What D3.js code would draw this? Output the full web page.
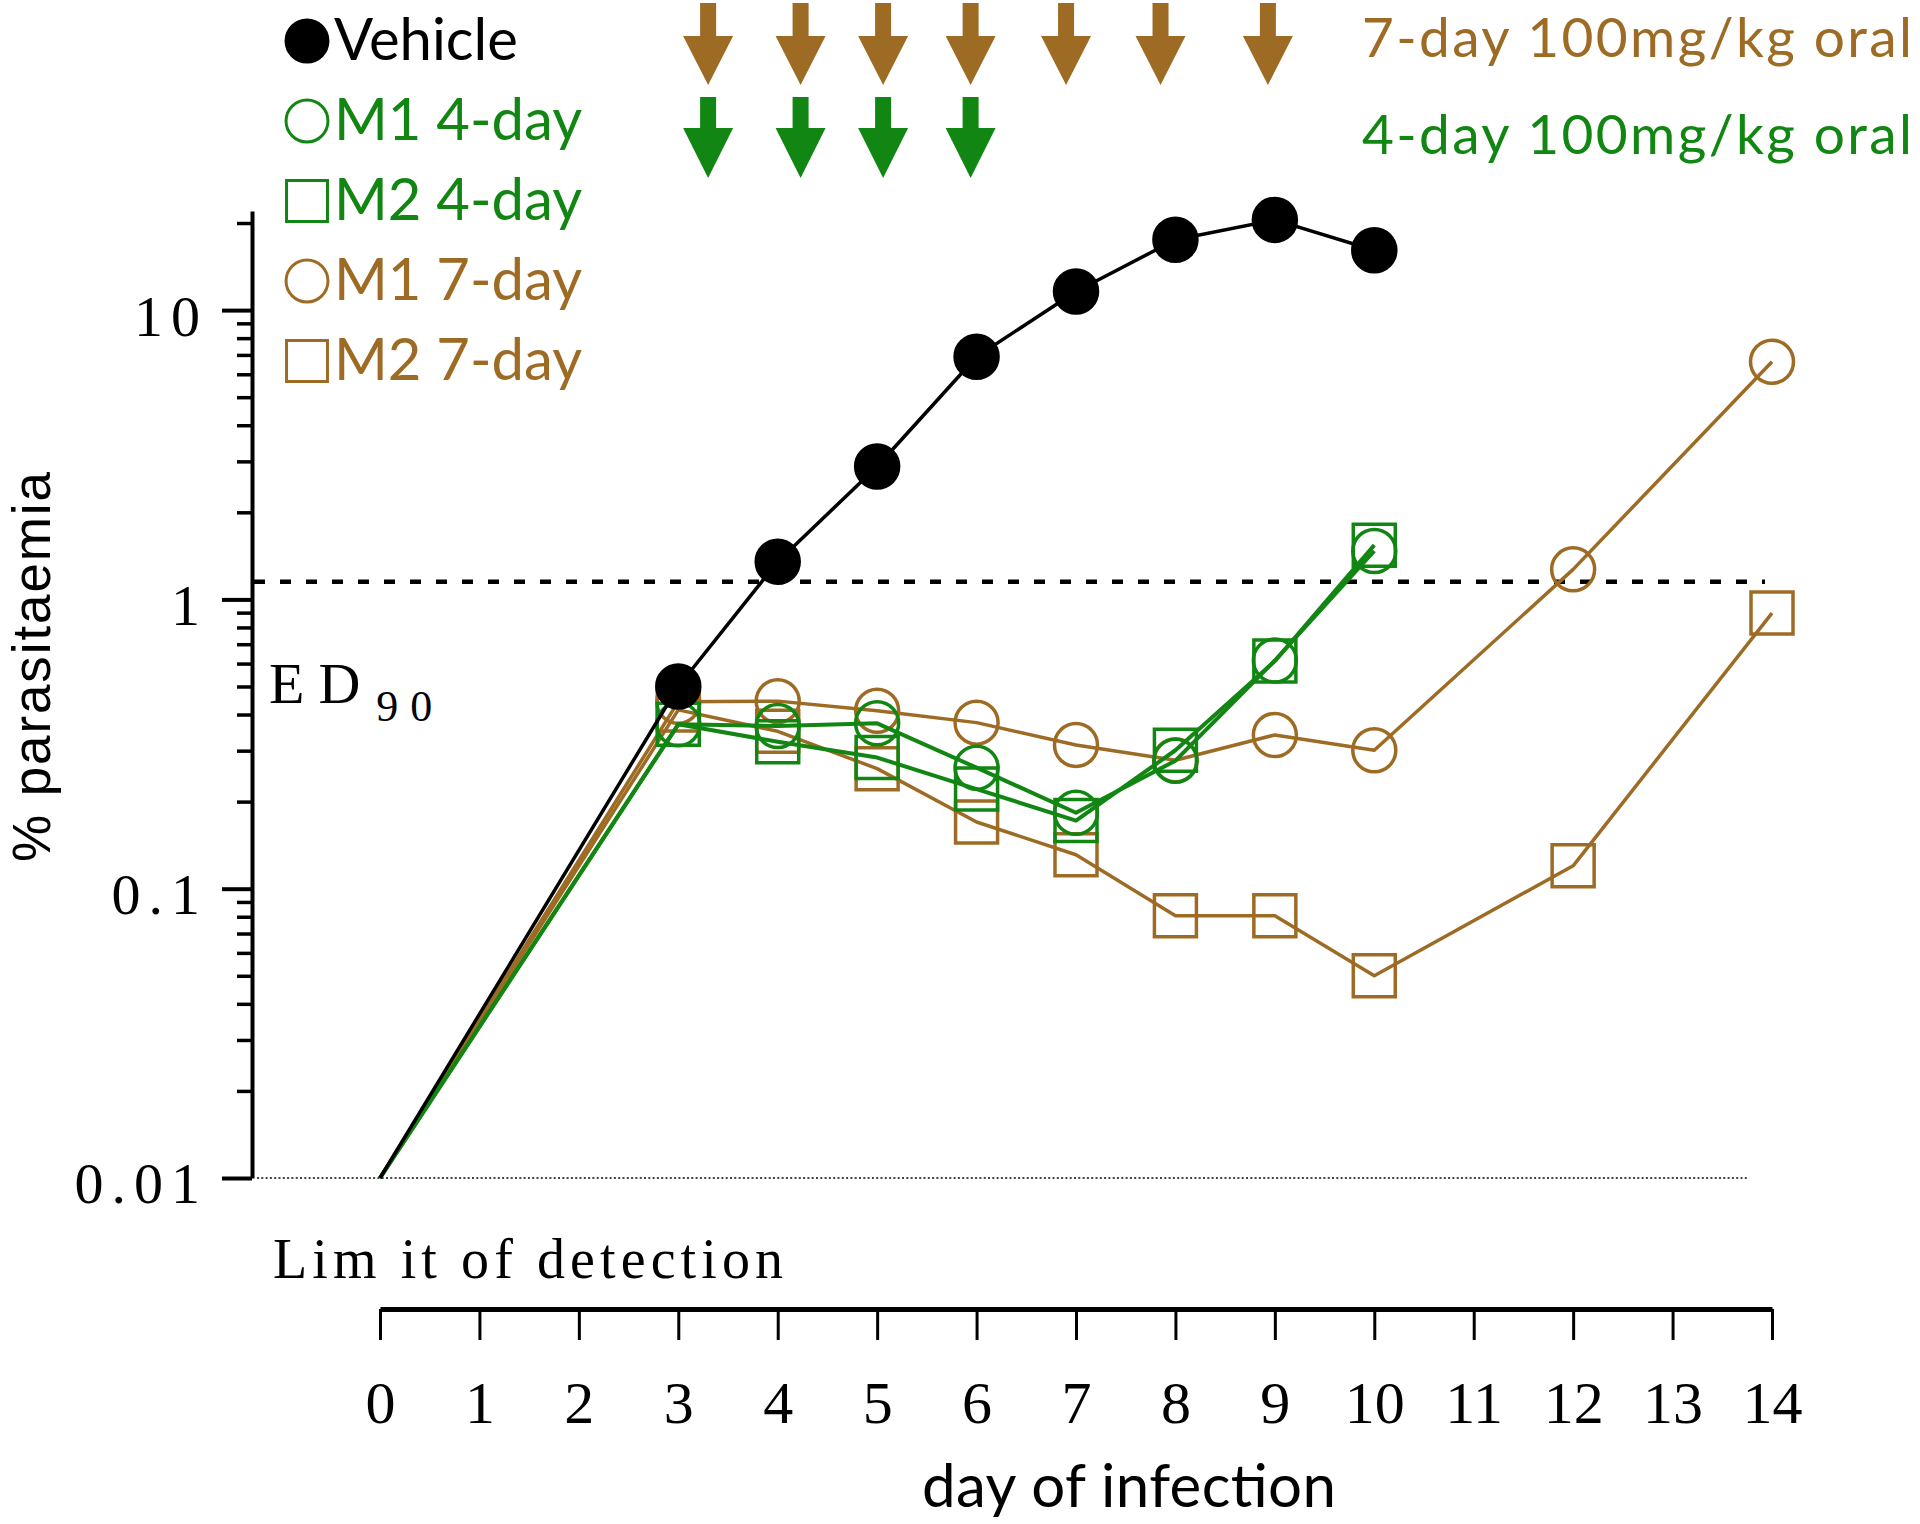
<!DOCTYPE html>
<html lang="en">
<head>
<meta charset="UTF-8">
<title>% parasitaemia by day of infection</title>
<script src="https://d3js.org/d3.v7.min.js"></script>
<style>
  body { margin: 0; background: #fff; }
  .serif { font-family: "Liberation Serif", "DejaVu Serif", serif; }
  .sans { font-family: Lato, "Noto Sans", sans-serif; }
</style>
</head>
<body>
<div id="chart"></div>
<script>
// data
const daysShort = [0, 3, 4, 5, 6, 7, 8, 9, 10];
const daysLong = [0, 3, 4, 5, 6, 7, 8, 9, 10, 12, 14];
const vehicle = [0.01, 0.5, 1.35, 2.88, 6.9, 11.6, 17.5, 20.5, 16.1];
const m1FourDay = [0.01, 0.37, 0.365, 0.373, 0.262, 0.183, 0.277, 0.615, 1.47];
const m2FourDay = [0.01, 0.37, 0.322, 0.284, 0.221, 0.172, 0.301, 0.612, 1.54];
const m1SevenDay = [0.01, 0.443, 0.445, 0.412, 0.375, 0.314, 0.278, 0.34, 0.301, 1.27, 6.63];
const m2SevenDay = [0.01, 0.415, 0.35, 0.26, 0.17, 0.131, 0.0806, 0.0806, 0.05, 0.12, 0.897];

const dayTicks = [0, 1, 2, 3, 4, 5, 6, 7, 8, 9, 10, 11, 12, 13, 14];
const yTickValues = [0.01, 0.1, 1, 10];
const yTickLabels = ["0.01", "0.1", "1", "10"];

// dosing arrows, placed in day units as drawn
const dose7Days = [3.3, 4.23, 5.06, 5.94, 6.9, 7.85, 8.93];
const dose4Days = [3.3, 4.23, 5.06, 5.94];
const dose7Label = "7-day 100mg/kg oral";
const dose4Label = "4-day 100mg/kg oral";

const ed90 = 1.15;
const detectionLimit = 0.01;
const legendLabels = ["Vehicle", "M1 4-day", "M2 4-day", "M1 7-day", "M2 7-day"];

const BROWN = "#9e6b25";
const GREEN = "#128612";

const width = 1920, height = 1524;

const svg = d3.select("#chart").append("svg")
    .attr("width", width)
    .attr("height", height);

// scales
const decadePx = 289.3;
const yBottom = 1178;
const yMax = 22;
const y = d3.scaleLog()
    .domain([0.01, yMax])
    .range([yBottom, yBottom - Math.log10(yMax / 0.01) * decadePx]);
const x = d3.scaleLinear()
    .domain([0, 14])
    .range([380, 1772]);

const axisX = 252;

// y axis: major + minor ticks
const yMajor = svg.append("g")
    .attr("transform", `translate(${axisX},0)`)
    .call(d3.axisLeft(y)
        .tickValues(yTickValues)
        .tickSize(30)
        .tickSizeOuter(0)
        .tickPadding(14)
        .tickFormat((d, i) => yTickLabels[i]));
yMajor.select(".domain").attr("stroke", "#000").attr("stroke-width", 4);
yMajor.selectAll(".tick line").attr("stroke-width", 4);
yMajor.selectAll(".tick text")
    .attr("class", "serif")
    .attr("font-size", 58)
    .attr("letter-spacing", 8)
    .attr("dy", "0.43em")
    .attr("fill", "#000");

const minorVals = y.ticks().filter(v => !yTickValues.includes(v) && v <= 20);
const yMinor = svg.append("g")
    .attr("transform", `translate(${axisX},0)`)
    .call(d3.axisLeft(y)
        .tickValues(minorVals)
        .tickSize(15)
        .tickSizeOuter(0)
        .tickFormat(""));
yMinor.select(".domain").remove();
yMinor.selectAll(".tick line").attr("stroke-width", 3.5);

// x axis, detached below the plot
const xAxisG = svg.append("g")
    .attr("transform", "translate(0,1309)")
    .call(d3.axisBottom(x)
        .tickValues(dayTicks)
        .tickSize(31)
        .tickSizeOuter(0)
        .tickPadding(40));
xAxisG.select(".domain").attr("stroke-width", 5);
xAxisG.selectAll(".tick line").attr("stroke-width", 3);
xAxisG.selectAll(".tick text")
    .attr("class", "serif")
    .attr("font-size", 60)
    .attr("fill", "#000");

// limit of detection (dotted) and ED90 (dashed)
svg.append("line")
    .attr("x1", axisX + 5).attr("x2", 1747)
    .attr("y1", y(detectionLimit)).attr("y2", y(detectionLimit))
    .attr("stroke", "#444")
    .attr("stroke-width", 2)
    .attr("stroke-dasharray", "2,2.3");

svg.append("line")
    .attr("x1", axisX + 2).attr("x2", 1765)
    .attr("y1", y(ed90)).attr("y2", y(ed90))
    .attr("stroke", "#000")
    .attr("stroke-width", 4.5)
    .attr("stroke-dasharray", "11,15");

// series, drawn brown first, then green, then vehicle on top
const series = [
    { days: daysLong, values: m1SevenDay, color: BROWN, shape: d3.symbolCircle, filled: false, lw: 3.5 },
    { days: daysLong, values: m2SevenDay, color: BROWN, shape: d3.symbolSquare, filled: false, lw: 3.5 },
    { days: daysShort, values: m1FourDay, color: GREEN, shape: d3.symbolCircle, filled: false, lw: 4 },
    { days: daysShort, values: m2FourDay, color: GREEN, shape: d3.symbolSquare, filled: false, lw: 4 },
    { days: daysShort, values: vehicle, color: "#000", shape: d3.symbolCircle, filled: true, lw: 3.5 }
];

const line = d3.line()
    .x(d => x(d.day))
    .y(d => y(d.value));

const markerSize = shape => shape === d3.symbolSquare ? 42 * 42 : Math.PI * 21.5 * 21.5;

series.forEach(s => {
    const pts = s.days.map((d, i) => ({ day: d, value: s.values[i] }));
    svg.append("path")
        .datum(pts)
        .attr("d", line)
        .attr("fill", "none")
        .attr("stroke", s.color)
        .attr("stroke-width", s.lw)
        .attr("stroke-linejoin", "round");
    svg.append("g").selectAll("path")
        .data(pts.filter(p => p.day > 0))
        .join("path")
        .attr("transform", p => `translate(${x(p.day)},${y(p.value)})`)
        .attr("d", d3.symbol().type(s.shape).size(markerSize(s.shape)))
        .attr("fill", s.filled ? s.color : "none")
        .attr("stroke", s.color)
        .attr("stroke-width", 3.5);
});

// legend
const legendStyle = [series[4], series[2], series[3], series[0], series[1]];
const legend = svg.append("g");
legendLabels.forEach((lab, i) => {
    const s = legendStyle[i];
    const cy = 41 + i * 80;
    legend.append("path")
        .attr("transform", `translate(307,${cy})`)
        .attr("d", d3.symbol().type(s.shape).size(markerSize(s.shape) * 0.95))
        .attr("fill", s.filled ? s.color : "none")
        .attr("stroke", s.color)
        .attr("stroke-width", 3);
    legend.append("text")
        .attr("class", "sans")
        .attr("x", 334)
        .attr("y", cy + 19)
        .attr("font-size", 58)
        .attr("fill", s.color)
        .text(lab);
});

// dosing arrows
function arrow(cx, top, neck, tip) {
    const sw = 8, hw = 25;
    return `M${cx - sw},${top}L${cx + sw},${top}L${cx + sw},${neck}L${cx + hw},${neck}` +
        `L${cx},${tip}L${cx - hw},${neck}L${cx - sw},${neck}Z`;
}
svg.append("g").selectAll("path")
    .data(dose7Days)
    .join("path")
    .attr("d", d => arrow(x(d), 3, 36, 85))
    .attr("fill", BROWN);
svg.append("g").selectAll("path")
    .data(dose4Days)
    .join("path")
    .attr("d", d => arrow(x(d), 97, 128, 178))
    .attr("fill", GREEN);

svg.append("text")
    .attr("class", "sans")
    .attr("x", 1362).attr("y", 57)
    .attr("font-size", 55)
    .attr("textLength", 550)
    .attr("lengthAdjust", "spacing")
    .attr("fill", BROWN)
    .text(dose7Label);
svg.append("text")
    .attr("class", "sans")
    .attr("x", 1362).attr("y", 154)
    .attr("font-size", 55)
    .attr("textLength", 550)
    .attr("lengthAdjust", "spacing")
    .attr("fill", GREEN)
    .text(dose4Label);

// annotations
const ed = svg.append("text")
    .attr("class", "serif")
    .attr("x", 269).attr("y", 703)
    .attr("fill", "#000");
ed.append("tspan").attr("font-size", 58).attr("letter-spacing", 14).text("ED");
ed.append("tspan").attr("font-size", 44).attr("letter-spacing", 12).attr("dy", 18).attr("dx", 2).text("90");

svg.append("text")
    .attr("class", "serif")
    .attr("x", 273).attr("y", 1278)
    .attr("font-size", 56)
    .attr("textLength", 510)
    .attr("lengthAdjust", "spacing")
    .attr("fill", "#000")
    .text("Lim it of detection");

// axis titles
svg.append("text")
    .attr("transform", "translate(50,667) rotate(-90)")
    .attr("text-anchor", "middle")
    .attr("font-family", "'Liberation Sans', Arial, sans-serif")
    .attr("font-size", 53)
    .attr("textLength", 390)
    .attr("lengthAdjust", "spacing")
    .attr("fill", "#000")
    .text("% parasitaemia");

svg.append("text")
    .attr("class", "sans")
    .attr("x", 1129).attr("y", 1507)
    .attr("text-anchor", "middle")
    .attr("font-size", 60)
    .attr("textLength", 414)
    .attr("lengthAdjust", "spacing")
    .attr("fill", "#000")
    .text("day of infection");
</script>
</body>
</html>
